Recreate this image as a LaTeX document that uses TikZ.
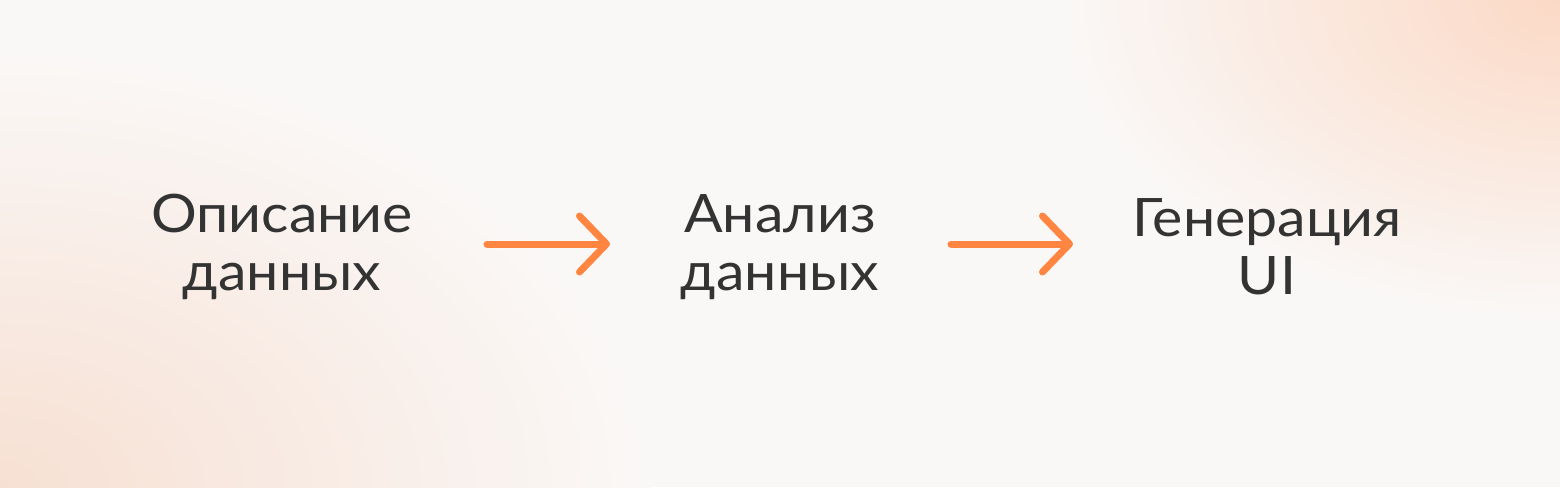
\documentclass[tikz,border=0pt]{standalone}
\usepackage{fontspec}
\setmainfont{Lato}[FakeStretch=1.08]
\usetikzlibrary{arrows.meta}
\definecolor{bgc}{HTML}{FAF8F7}
\definecolor{peachA}{HTML}{FBD9C6}
\definecolor{peachB}{HTML}{F7E0D3}
\definecolor{txt}{HTML}{333333}
\definecolor{orng}{HTML}{FF8541}
\pgfdeclareradialshading{glowTR}{\pgfpoint{0bp}{0bp}}{color(0bp)=(peachA); color(25bp)=(bgc); color(50bp)=(bgc)}
\pgfdeclareradialshading{glowBL}{\pgfpoint{0bp}{0bp}}{color(0bp)=(peachB); color(25bp)=(bgc); color(50bp)=(bgc)}
\tikzset{
  label/.style={font=\fontsize{53}{58}\selectfont, text=txt, align=center, inner sep=0pt},
  flow/.style={draw=orng, line width=7pt, line cap=round, line join=round,
    -{Straight Barb[length=27pt,width=56pt,round]}}
}
\begin{document}
\begin{tikzpicture}[x=1pt,y=-1pt]
\useasboundingbox (0,0) rectangle (1560,487);
\fill[bgc] (0,0) rectangle (1560,487);
\begin{scope}
\clip (0,0) rectangle (1560,487);
\shade[shading=glowTR] (1060,-320) rectangle (2060,320);
\shade[shading=glowBL] (-650,47) rectangle (650,927);
\end{scope}
\node[label] (a) at (282,247) {Описание\\данных};
\node[label] (b) at (780,247) {Анализ\\данных};
\node[label] (c) at (1267,247) {Генерация\\UI};
\draw[flow, shorten <=205pt, shorten >=170pt] ([yshift=3pt]a.center) -- ([yshift=3pt]b.center);
\draw[flow, shorten <=171pt, shorten >=194pt] ([yshift=3pt]b.center) -- ([yshift=3pt]c.center);
\end{tikzpicture}
\end{document}
